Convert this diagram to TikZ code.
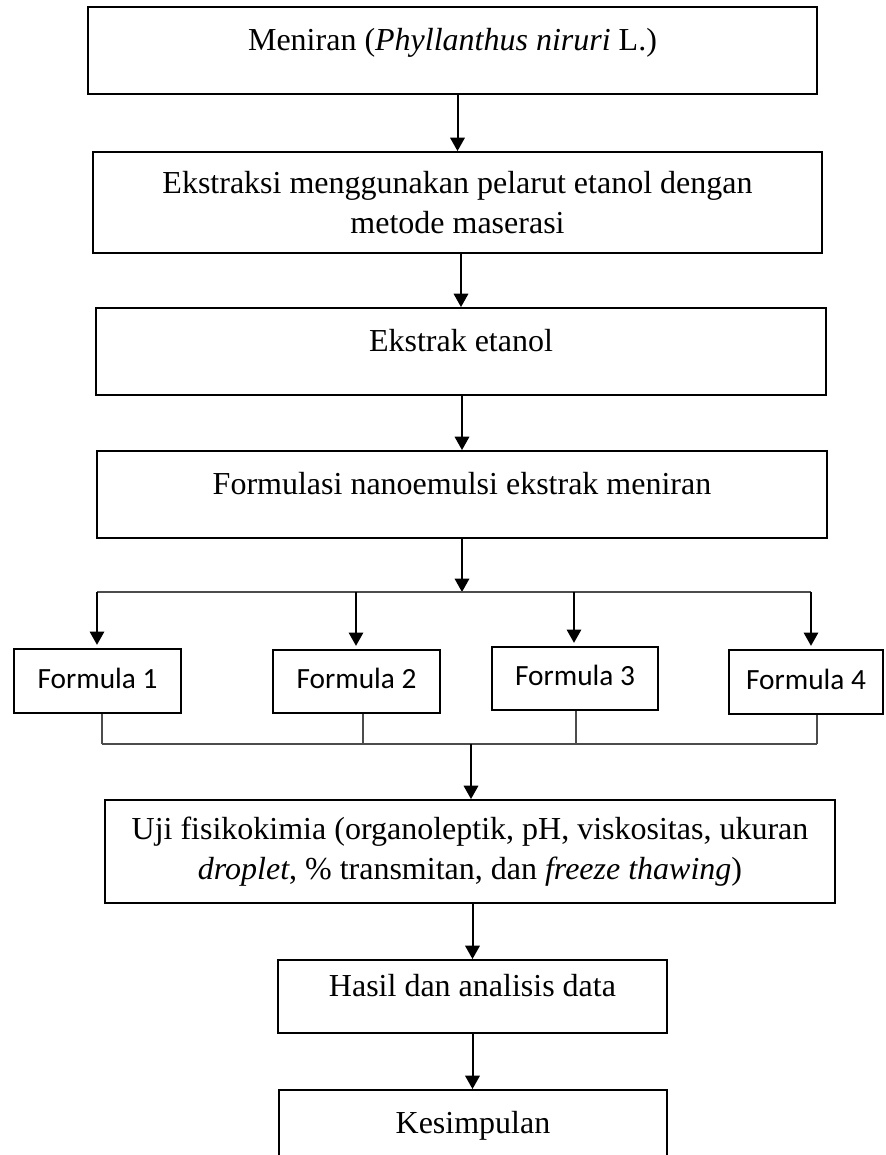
\documentclass[tikz,border=0pt]{standalone}
\usepackage{fontspec}
\setmainfont{Liberation Serif}
\newfontfamily\calibri{Carlito}
\usetikzlibrary{arrows.meta}

\newlength\px
\setlength\px{0.375pt}

\tikzset{
  box/.style={draw, line width=0.7pt, inner sep=0pt, align=center,
    font=\fontsize{12pt}{15pt}\selectfont},
  oneline/.style={text height=9pt, text depth=9pt},
  formbox/.style={draw, line width=0.7pt, inner sep=0pt,
    text height=8pt, text depth=2.5pt,
    font=\calibri\fontsize{11pt}{13pt}\selectfont},
  arr/.style={line width=0.75pt, -{Triangle[width=5.4pt,length=5pt]}},
  thinline/.style={line width=0.4pt, draw=black!70},
}

\begin{document}
\begin{tikzpicture}[x=0.375pt, y=-0.375pt]

    \useasboundingbox (0,0) rectangle (885,1155);
    \clip (0,0) rectangle (885,1155);

    % 主流程方框
    \node[box, oneline, minimum width=729\px, minimum height=87\px] (meniran) at (452.5,50.5)
        {Meniran (\textit{Phyllanthus niruri} L.)};
    \node[box, minimum width=729\px, minimum height=101\px] (ekstraksi) at (457.5,202.5)
        {Ekstraksi menggunakan pelarut etanol dengan\\metode maserasi};
    \node[box, oneline, minimum width=730\px, minimum height=87\px] (ekstrak) at (461,351.5)
        {Ekstrak etanol};
    \node[box, oneline, minimum width=730\px, minimum height=87\px] (formulasi) at (462,494.5)
        {Formulasi nanoemulsi ekstrak meniran};

    % 四个配方
    \node[formbox, minimum width=167\px, minimum height=64\px] (f1) at (97.5,681) {Formula 1};
    \node[formbox, minimum width=167\px, minimum height=63\px] (f2) at (356.5,681.5) {Formula 2};
    \node[formbox, minimum width=166\px, minimum height=63\px] (f3) at (575,678.5) {Formula 3};
    \node[formbox, minimum width=154\px, minimum height=64\px] (f4) at (806,682) {Formula 4};

    % 后续方框
    \node[box, minimum width=730\px, minimum height=103\px] (uji) at (470,851.5)
        {Uji fisikokimia (organoleptik, pH, viskositas, ukuran\\\textit{droplet}, \% transmitan, dan \textit{freeze thawing})};
    \node[box, oneline, minimum width=389\px, minimum height=73\px] (hasil) at (472.5,996.5)
        {Hasil dan analisis data};
    \node[box, oneline, minimum width=388\px, minimum height=87\px] (kesimpulan) at (473,1133.5)
        {Kesimpulan};

    % 分支点
    \coordinate (fan) at (462,592);
    \coordinate (fa1) at (97,592);
    \coordinate (fa2) at (356,592);
    \coordinate (fa3) at (574,592);
    \coordinate (fa4) at (811,592);
    \coordinate (co1) at (102,744);
    \coordinate (co2) at (363,744);
    \coordinate (co3) at (576,744);
    \coordinate (co4) at (817,744);
    \coordinate (coll) at (471,744);

    % 箭头
    \draw[arr] (meniran.south -| ekstraksi.north) -- (ekstraksi.north);
    \draw[arr] (ekstraksi.south -| ekstrak.north) -- (ekstrak.north);
    \draw[arr] (ekstrak.south -| formulasi.north) -- (formulasi.north);
    \draw[arr] (formulasi.south) -- (fan);
    \draw[thinline] (fa1) -- (fa4);
    \foreach \i in {1,...,4} {
        \draw[arr, shorten >=1.2pt] (fa\i) -- (fa\i |- f\i.north);
        \draw[thinline] (co\i |- f\i.south) -- (co\i);
    }
    \draw[thinline] (co1) -- (co4);
    \draw[arr] (coll) -- (coll |- uji.north);
    \draw[arr] (uji.south -| hasil.north) -- (hasil.north);
    \draw[arr] (hasil.south) -- (hasil.south |- kesimpulan.north);

  \end{tikzpicture}
\end{document}
